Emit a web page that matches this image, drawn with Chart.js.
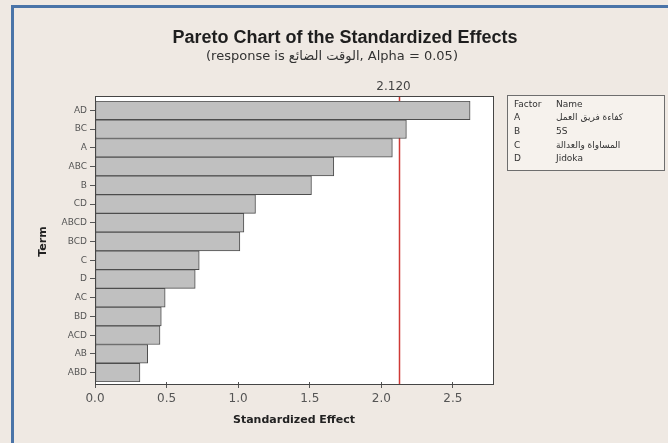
<!DOCTYPE html>
<html>
<head>
<meta charset="utf-8">
<script src="https://cdn.jsdelivr.net/npm/chart.js@4"></script>
<style>
  body {margin: 0; background: #efe9e3;}
  canvas {display: block;}
</style>
</head>
<body>
<canvas id="chart" width="668" height="443"></canvas>
<script>
// terms sorted by absolute standardized effect
const terms = ['AD', 'BC', 'A', 'ABC', 'B', 'CD', 'ABCD', 'BCD', 'C', 'D', 'AC', 'BD', 'ACD', 'AB', 'ABD']
const effects = [2.62, 2.175, 2.077, 1.668, 1.512, 1.121, 1.04, 1.012, 0.728, 0.70, 0.49, 0.463, 0.454, 0.368, 0.314]
const xTicks = [0, 0.5, 1, 1.5, 2, 2.5]
const xMax = 2.78
const critical = 2.12

const factors = ['A', 'B', 'C', 'D']
const factorNames = ['كفاءة فريق العمل', '5S', 'المساواة والعدالة', 'Jidoka']

const title = 'Pareto Chart of the Standardized Effects'
const subtitle = '(response is الوقت الضائع, Alpha = 0.05)'

/** frame, reference line and the factor table, Minitab style */
const minitabPlugin = {
  id: 'minitab',
  beforeDraw(chart) {
    const {ctx, chartArea: area} = chart
    ctx.save()
    ctx.fillStyle = '#efe9e3'
    ctx.fillRect(0, 0, chart.width, chart.height)
    ctx.strokeStyle = '#4a74a8'
    ctx.lineWidth = 3
    ctx.strokeRect(12.5, 6.5, 800, 600)
    ctx.fillStyle = '#ffffff'
    ctx.fillRect(area.left, 96, area.right - area.left, 384 - 96)
    ctx.restore()
  },
  beforeDatasetsDraw(chart) {
    const {ctx} = chart
    const x = Math.round(chart.scales.x.getPixelForValue(critical)) + 0.5
    ctx.save()
    ctx.strokeStyle = '#cf3a36'
    ctx.lineWidth = 1.5
    ctx.beginPath()
    ctx.moveTo(x, 96)
    ctx.lineTo(x, 384)
    ctx.stroke()
    ctx.restore()
  },
  afterDraw(chart) {
    const {ctx, chartArea: area} = chart
    ctx.save()
    // plot frame
    ctx.strokeStyle = '#454545'
    ctx.lineWidth = 1
    ctx.strokeRect(area.left + 0.5, 96.5, area.right - area.left, 384 - 96)

    // titles
    ctx.textAlign = 'center'
    ctx.textBaseline = 'middle'
    ctx.fillStyle = '#1e1e1e'
    ctx.font = 'bold 18px "Liberation Sans"'
    ctx.fillText(title, 345, 38)
    ctx.fillStyle = '#333'
    ctx.font = '13px "DejaVu Sans"'
    ctx.fillText(subtitle, 332, 57)

    // critical value label
    const cx = chart.scales.x.getPixelForValue(critical)
    ctx.fillStyle = '#444'
    ctx.font = '12px "DejaVu Sans"'
    ctx.fillText(critical.toFixed(3), cx - 5, 87)

    // factor table
    ctx.fillStyle = '#f6f2ed'
    ctx.fillRect(507, 95, 158, 76)
    ctx.strokeStyle = '#6e6e6e'
    ctx.strokeRect(507.5, 95.5, 157, 75)
    ctx.textAlign = 'left'
    ctx.fillStyle = '#333'
    ctx.font = '9px "DejaVu Sans"'
    ctx.fillText('Factor', 514, 105)
    ctx.fillText('Name', 556, 105)
    factors.forEach((f, i) => {
      const y = 118 + i * 13.7
      ctx.fillText(f, 514, y)
      ctx.fillText(factorNames[i], 556, y)
    })
    ctx.restore()
  },
}

const data = {
  labels: terms,
  datasets: [{
    data: effects,
    backgroundColor: '#c0c0c0',
    borderColor: '#4d4d4d',
    borderWidth: 1,
    borderSkipped: false,
    barPercentage: 1,
    categoryPercentage: 1,
  }],
}

const config = {
  type: 'bar',
  data,
  options: {
    indexAxis: 'y',
    responsive: false,
    animation: false,
    layout: {padding: {left: 33, right: 175, top: 101, bottom: 12}},
    plugins: {
      legend: {display: false},
      tooltip: {enabled: false},
    },
    scales: {
      x: {
        type: 'linear',
        min: 0,
        max: xMax,
        afterFit: scale => { scale.height = 49 },
        afterBuildTicks: scale => {
          scale.ticks = xTicks.map(value => ({value}))
        },
        border: {display: false},
        grid: {drawOnChartArea: false, drawTicks: true, tickLength: 6, color: '#555'},
        ticks: {
          padding: 4,
          color: '#555',
          font: {family: 'DejaVu Sans', size: 12},
          callback: value => value.toFixed(1),
        },
        title: {
          display: true,
          text: 'Standardized Effect',
          color: '#222',
          font: {family: 'DejaVu Sans', size: 11, weight: 'bold'},
        },
      },
      y: {
        afterFit: scale => { scale.width = 62 },
        border: {display: false},
        grid: {drawOnChartArea: false, drawTicks: true, tickLength: 5, offset: false, color: '#555'},
        ticks: {
          padding: 3,
          color: '#555',
          font: {family: 'DejaVu Sans', size: 9},
        },
        title: {
          display: true,
          text: 'Term',
          color: '#222',
          font: {family: 'DejaVu Sans', size: 11, weight: 'bold'},
        },
      },
    },
  },
  plugins: [minitabPlugin],
}

new Chart('chart', config)
</script>
</body>
</html>
